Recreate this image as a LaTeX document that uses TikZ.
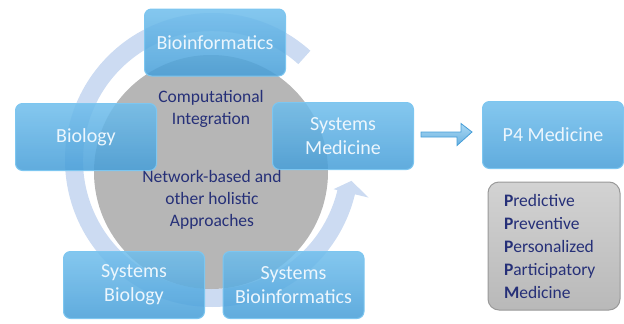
\documentclass[tikz,border=0pt]{standalone}
\usepackage{fontspec}
\setmainfont{Carlito}
\usepackage{tikz}
\usetikzlibrary{calc, positioning}
\definecolor{boxtop}{RGB}{112, 190, 236}
\definecolor{boxbot}{RGB}{70, 158, 216}
\definecolor{boxline}{RGB}{125, 198, 240}
\definecolor{boxtext}{RGB}{236, 246, 253}
\definecolor{navytxt}{RGB}{38, 48, 120}
\definecolor{ringblue}{RGB}{120, 160, 220}
\definecolor{discgray}{RGB}{182, 182, 182}

\begin{document}
\begin{tikzpicture}[x=1pt, y=-1pt,
    bluebox/.style={rounded corners=7pt, top color=boxtop, bottom color=boxbot, draw=boxline, line width=1pt,
        fill opacity=0.86, text opacity=1, minimum width=141pt, minimum height=67pt, inner sep=0pt,
        align=center, text=boxtext, font=\fontsize{20}{24}\selectfont},
    midtext/.style={align=center, text=navytxt, font=\fontsize{17.5}{22}\selectfont},
    plist/.style={rounded corners=11pt, top color=gray!35, bottom color=gray!55, draw=gray!80, line width=1pt,
        minimum width=132pt, minimum height=128pt, text width=100pt, align=left, text=navytxt,
        font=\fontsize{17.5}{23}\selectfont},
    ringfill/.style={fill=ringblue, fill opacity=0.38},
    fatarrow/.style={top color=boxtop!60!white, bottom color=boxbot!80!white, draw=boxbot, line width=0.8pt}]

    \useasboundingbox (0,0) rectangle (624,324);

    % Central disc
    \node[circle, fill=discgray, minimum size=234pt, inner sep=0pt] (disc) at (211,172) {};

    % Circular arrow round the disc
    \coordinate (rc) at (212,160);
    \fill[ringfill] ($(rc)+(-48:147)$) arc[start angle=-48, end angle=-346.5, radius=147]
        -- ($(rc)+(-346.5:161)$) -- ($(rc)+(-351.5:141)$) -- ($(rc)+(-346.5:125)$)
        -- ($(rc)+(-346.5:129)$) arc[start angle=-346.5, end angle=-48, radius=129] -- cycle;

    % Blue boxes
    \foreach \n/\x/\y/\txt in {bioinf/215/42.5/Bioinformatics, biology/86/137/Biology,
        sysmed/343/136/{Systems\\Medicine}, sysbio/134/285/{Systems\\Biology},
        sysbioinf/293.5/285/{Systems\\Bioinformatics}, p4/553/135/{P4 Medicine}} {
        \node[bluebox] (\n) at (\x,\y) {\txt};
    }

    % Texts on the disc
    \node[midtext] (comp) at (211,109) {Computational\\Integration};
    \node[midtext] (netw) at (212,200) {Network-based and\\other holistic\\Approaches};

    % Arrow to P4
    \draw[fatarrow] ($(sysmed.east)+(7,-4)$) -- ++(40,0) -- ++(0,-8.5) -- ($(p4.west)+(-10,-3)$)
        -- ++(-15,13.5) -- ++(0,-8.5) -- ($(sysmed.east)+(7,1)$) -- cycle;

    % The four Ps
    \node[plist] (fourp) at (554,246) {\textbf{P}redictive\\\textbf{P}reventive\\\textbf{P}ersonalized\\\textbf{P}articipatory\\\textbf{M}edicine};
\end{tikzpicture}
\end{document}
